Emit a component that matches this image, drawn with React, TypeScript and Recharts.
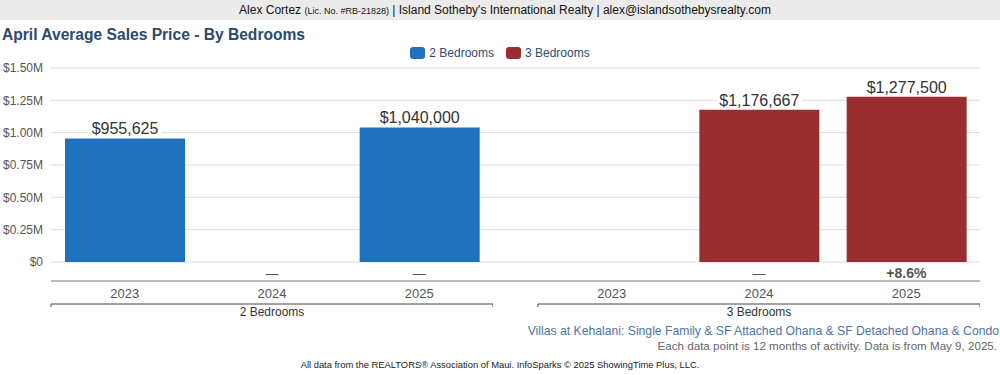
import { Bar, BarChart, CartesianGrid, LabelList, XAxis, YAxis } from "recharts";

const years = ["2023", "2024", "2025"];
const twoBedPrices = [955625, null, 1040000];
const threeBedPrices = [null, 1176667, 1277500];
const twoBedChange = ["", "—", "—"];
const threeBedChange = ["", "—", "+8.6%"];
const yTicks = [0, 250000, 500000, 750000, 1000000, 1250000, 1500000];

const FONT = "'Liberation Sans', Arial, Helvetica, sans-serif";
const BLUE = "#1f72bb";
const RED = "#9a2d30";

const fmtTick = (v: number) => (v === 0 ? "$0" : `$${(v / 1e6).toFixed(2)}M`);
const fmtPrice = (v: number) => "$" + v.toLocaleString("en-US");

const ValueLabel = (props: any) => {
  const { x, y, width, value } = props;
  if (value == null) return null;
  const text = fmtPrice(Number(value));
  const w = text.split("").reduce((s, c) => s + (c === "," ? 4.45 : 8.9), 0) + 6;
  const cx = Number(x) + Number(width) / 2;
  return (
    <g>
      <rect x={cx - w / 2} y={Number(y) - 18} width={w} height={16} fill="#fff" />
      <text x={cx} y={Number(y) - 4} textAnchor="middle" fontSize={16} fill="#333" fontFamily={FONT}>
        {text}
      </text>
    </g>
  );
};

const ChangeTick = (props: any) => {
  const { x, y, payload, changes } = props;
  const t = changes[payload.index];
  if (!t) return null;
  const bold = t !== "—";
  return (
    <text
      x={x}
      y={y + 16}
      textAnchor="middle"
      fontSize={bold ? 14 : 13}
      fontWeight={bold ? 700 : 400}
      fill="#555"
      fontFamily={FONT}
    >
      {t}
    </text>
  );
};

const YearTick = (props: any) => {
  const { x, y, payload } = props;
  return (
    <text x={x} y={y + 17} textAnchor="middle" fontSize={13} fill="#555" fontFamily={FONT}>
      {payload.value}
    </text>
  );
};

const BracketLabel = (props: any) => {
  const { viewBox, text, padLeft } = props;
  if (!viewBox) return null;
  const x1 = viewBox.x + padLeft;
  const x2 = viewBox.x + viewBox.width;
  const by = viewBox.y + 23;
  return (
    <g>
      <path d={`M${x1},${by + 3}V${by}H${x2}V${by + 3}`} stroke="#444" fill="none" strokeWidth={1} />
      <text x={(x1 + x2) / 2} y={by + 12} textAnchor="middle" fontSize={12} fill="#333" fontFamily={FONT}>
        {text}
      </text>
    </g>
  );
};

type PanelProps = {
  prices: (number | null)[];
  changes: string[];
  color: string;
  group: string;
  width: number;
  showY: boolean;
  padLeft: number;
};

const Panel = ({ prices, changes, color, group, width, showY, padLeft }: PanelProps) => {
  const data = years.map((year, i) => ({ year, price: prices[i] }));
  return (
    <BarChart width={width} height={261} data={data} margin={{ top: 8, right: 0, left: 0, bottom: 0 }}>
      <CartesianGrid xAxisId="chg" vertical={false} stroke="#dcdcdc" />
      <XAxis
        xAxisId="chg"
        dataKey="year"
        height={19}
        axisLine={false}
        tickLine={false}
        tickSize={0}
        tickMargin={0}
        padding={{ left: padLeft, right: 0 }}
        tick={<ChangeTick changes={changes} />}
        interval={0}
      />
      <XAxis
        xAxisId="yr"
        dataKey="year"
        height={40}
        axisLine={{ stroke: "#777" }}
        tickLine={false}
        tickSize={0}
        tickMargin={0}
        padding={{ left: padLeft, right: 0 }}
        tick={<YearTick />}
        interval={0}
        label={<BracketLabel text={group} padLeft={padLeft} />}
      />
      <YAxis
        width={showY ? 51 : 0}
        hide={!showY}
        domain={[0, 1500000]}
        ticks={yTicks}
        axisLine={false}
        tickLine={false}
        tickSize={0}
        tickMargin={8}
        tickFormatter={fmtTick}
        tick={{ fontSize: 12, fill: "#555", fontFamily: FONT }}
      />
      <Bar xAxisId="chg" dataKey="price" fill={color} barSize={120} isAnimationActive={false}>
        <LabelList dataKey="price" content={<ValueLabel />} />
      </Bar>
    </BarChart>
  );
};

const LegendItem = ({ color, label, gap }: { color: string; label: string; gap: number }) => (
  <span style={{ display: "inline-flex", alignItems: "center", marginRight: gap }}>
    <span style={{ width: 15, height: 12, background: color, borderRadius: 3, marginRight: 4 }} />
    <span>{label}</span>
  </span>
);

export default function App() {
  return (
    <div
      style={{
        position: "absolute",
        left: 0,
        top: 0,
        width: 1000,
        height: 375,
        background: "#fff",
        fontFamily: FONT,
        overflow: "hidden",
      }}
    >
      <div
        style={{
          position: "absolute",
          left: 0,
          top: 0,
          width: 990,
          paddingLeft: 10,
          height: 20,
          background: "#ebebeb",
          textAlign: "center",
          fontSize: 12,
          lineHeight: "20px",
          color: "#111",
        }}
      >
        Alex Cortez <span style={{ fontSize: 9 }}>(Lic. No. #RB-21828)</span> | Island Sotheby's International Realty |
        alex@islandsothebysrealty.com
      </div>
      <div
        style={{
          position: "absolute",
          left: 2,
          top: 26,
          fontSize: 15.6,
          fontWeight: 700,
          color: "#2b4a70",
        }}
      >
        April Average Sales Price - By Bedrooms
      </div>
      <div
        style={{
          position: "absolute",
          left: 0,
          top: 45,
          width: 1000,
          display: "flex",
          justifyContent: "center",
          fontSize: 12,
          color: "#2d4b6e",
          lineHeight: "16px",
        }}
      >
        <LegendItem color={BLUE} label="2 Bedrooms" gap={12} />
        <LegendItem color={RED} label="3 Bedrooms" gap={0} />
      </div>
      <div style={{ position: "absolute", left: 0, top: 60 }}>
        <Panel prices={twoBedPrices} changes={twoBedChange} color={BLUE} group="2 Bedrooms" width={493} showY padLeft={0} />
      </div>
      <div style={{ position: "absolute", left: 493, top: 60 }}>
        <Panel
          prices={threeBedPrices}
          changes={threeBedChange}
          color={RED}
          group="3 Bedrooms"
          width={487}
          showY={false}
          padLeft={45}
        />
      </div>
      <div
        style={{
          position: "absolute",
          right: 1,
          top: 323,
          fontSize: 12.2,
          color: "#4a76a8",
          lineHeight: "16px",
        }}
      >
        Villas at Kehalani: Single Family &amp; SF Attached Ohana &amp; SF Detached Ohana &amp; Condo
      </div>
      <div
        style={{
          position: "absolute",
          right: 3,
          top: 339,
          fontSize: 11.6,
          color: "#666",
          lineHeight: "14px",
        }}
      >
        Each data point is 12 months of activity. Data is from May 9, 2025.
      </div>
      <div
        style={{
          position: "absolute",
          left: 0,
          top: 358,
          width: 1000,
          textAlign: "center",
          fontSize: 9.4,
          color: "#222",
          lineHeight: "13px",
        }}
      >
        All data from the REALTORS® Association of Maui. InfoSparks © 2025 ShowingTime Plus, LLC.
      </div>
    </div>
  );
}
